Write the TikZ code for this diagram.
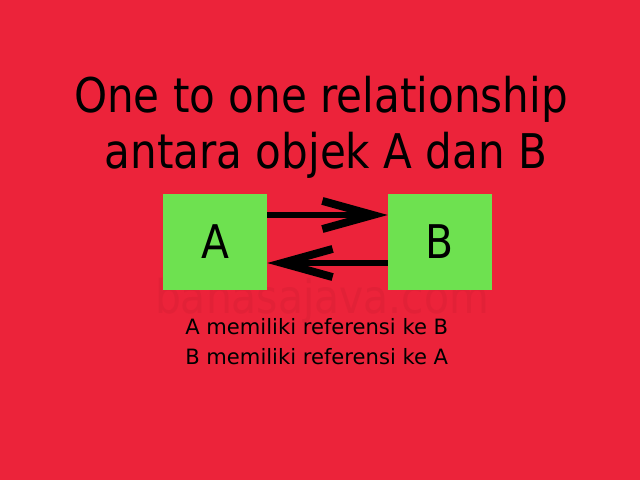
\documentclass[tikz,border=0pt]{standalone}
\usepackage{fontspec}
\setmainfont{DejaVu Sans}[FakeStretch=0.88]
\newfontfamily\capfont{DejaVu Sans}
\usetikzlibrary{positioning}
\usetikzlibrary{arrows.meta}
\definecolor{bgred}{RGB}{236,35,58}
\definecolor{boxgreen}{RGB}{110,225,80}
\definecolor{markred}{RGB}{226,33,55}
\tikzset{obj/.style={rectangle,fill=boxgreen,minimum width=2.6cm,minimum height=2.4cm,font=\fontsize{33}{36}\selectfont},
ref/.style={line width=4.3pt,-{Straight Barb[length=36pt,width=20pt,line width=5.6pt,sharp]}},
caption/.style={anchor=base west,inner sep=0pt,font=\capfont\fontsize{15}{16}\selectfont}}

\begin{document}
\begin{tikzpicture}[x=0.025cm,y=-0.025cm]
\fill[bgred] (0,0) rectangle (640,480);

\node (t1) at (321,112) [anchor=base,font=\fontsize{34}{40}\selectfont] {One to one relationship};
\node (t2) at (326,168) [anchor=base,font=\fontsize{34}{40}\selectfont] {antara objek A dan B};

% watermark
\node (wm) at (322,313) [anchor=base,text=markred,font=\fontsize{33}{36}\selectfont] {bahasajava.com};

\node (a) at (215,242) [obj] {A};
\node (b) at (440,242) [obj] {B};

\draw[ref] ([yshift=0.675cm]a.east) -- ([yshift=0.675cm]b.west);
\draw[ref] ([yshift=-0.525cm]b.west) -- ([yshift=-0.525cm]a.east);

\node (c1) at (185,334) [caption] {A memiliki referensi ke B};
\node (c2) at (185,364) [caption] {B memiliki referensi ke A};
\end{tikzpicture}
\end{document}
